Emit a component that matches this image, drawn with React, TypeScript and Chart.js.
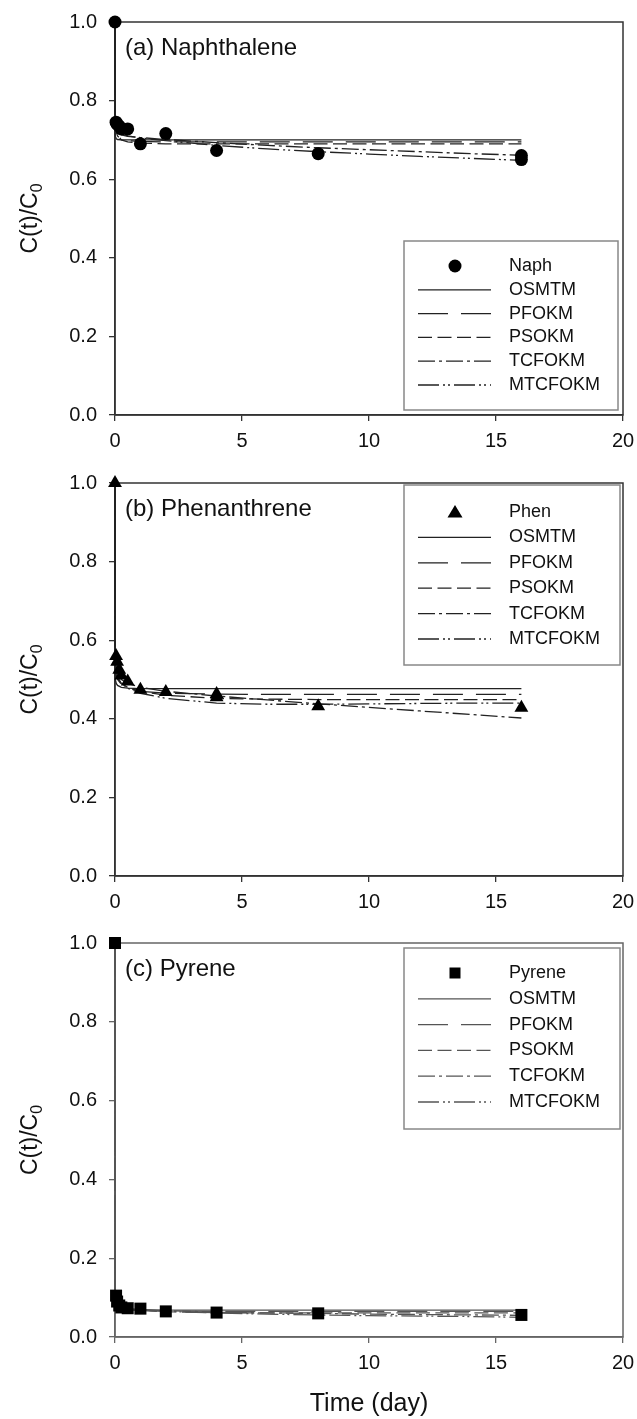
import { useEffect, useRef } from "react";
import { Chart, registerables } from "chart.js";

Chart.register(...registerables);

const FONT = "'Liberation Sans', Arial, Helvetica, sans-serif";

// ---- axis ticks ----
const xTickValues = [0, 5, 10, 15, 20];
const xTickLabels = ["0", "5", "10", "15", "20"];
const yTickValues = [0, 0.2, 0.4, 0.6, 0.8, 1.0];
const yTickLabels = ["0.0", "0.2", "0.4", "0.6", "0.8", "1.0"];

// ---- model names and model time grid ----
const modelNames = ["OSMTM", "PFOKM", "PSOKM", "TCFOKM", "MTCFOKM"];
const modelTime = [0, 0.01, 0.05, 0.1, 0.25, 0.5, 1, 2, 4, 6, 8, 10, 12, 14, 16];

// ---- (a) Naphthalene ----
const naphTime = [0, 0.042, 0.083, 0.167, 0.25, 0.5, 1, 2, 4, 8, 16, 16];
const naphValues = [1.0, 0.745, 0.74, 0.735, 0.728, 0.728, 0.69, 0.716, 0.673, 0.665, 0.66, 0.65];
const naphOSMTM = [1.0, 0.71, 0.703, 0.701, 0.7, 0.7, 0.7, 0.7, 0.7, 0.7, 0.7, 0.7, 0.7, 0.7, 0.7];
const naphPFOKM = [1.0, 0.74, 0.72, 0.71, 0.701, 0.698, 0.696, 0.695, 0.695, 0.695, 0.695, 0.695, 0.695, 0.695, 0.695];
const naphPSOKM = [1.0, 0.745, 0.725, 0.712, 0.7, 0.695, 0.692, 0.69, 0.69, 0.69, 0.69, 0.69, 0.69, 0.69, 0.69];
const naphTCFOKM = [1.0, 0.75, 0.73, 0.72, 0.713, 0.709, 0.706, 0.701, 0.693, 0.686, 0.68, 0.675, 0.67, 0.665, 0.661];
const naphMTCFOKM = [1.0, 0.75, 0.73, 0.722, 0.715, 0.71, 0.705, 0.698, 0.686, 0.677, 0.67, 0.664, 0.658, 0.653, 0.648];

// ---- (b) Phenanthrene ----
const phenTime = [0, 0.042, 0.083, 0.167, 0.25, 0.5, 1, 2, 4, 4, 8, 16];
const phenValues = [1.0, 0.56, 0.545, 0.525, 0.51, 0.495, 0.474, 0.468, 0.463, 0.455, 0.432, 0.428];
const phenOSMTM = [1.0, 0.5, 0.49, 0.485, 0.48, 0.478, 0.477, 0.477, 0.477, 0.477, 0.477, 0.477, 0.477, 0.477, 0.477];
const phenPFOKM = [1.0, 0.53, 0.51, 0.5, 0.488, 0.478, 0.47, 0.465, 0.463, 0.462, 0.462, 0.462, 0.462, 0.462, 0.462];
const phenPSOKM = [1.0, 0.54, 0.52, 0.505, 0.49, 0.48, 0.47, 0.46, 0.452, 0.45, 0.449, 0.449, 0.449, 0.449, 0.449];
const phenTCFOKM = [1.0, 0.55, 0.53, 0.515, 0.5, 0.49, 0.48, 0.47, 0.458, 0.448, 0.438, 0.429, 0.42, 0.411, 0.402];
const phenMTCFOKM = [1.0, 0.545, 0.52, 0.505, 0.49, 0.478, 0.465, 0.452, 0.44, 0.437, 0.437, 0.438, 0.439, 0.44, 0.44];

// ---- (c) Pyrene ----
const pyrTime = [0, 0.042, 0.083, 0.167, 0.25, 0.5, 1, 2, 4, 8, 16];
const pyrValues = [1.0, 0.105, 0.09, 0.08, 0.075, 0.073, 0.072, 0.065, 0.062, 0.06, 0.056];
const pyrOSMTM = [1.0, 0.085, 0.075, 0.072, 0.07, 0.069, 0.068, 0.068, 0.068, 0.068, 0.068, 0.068, 0.068, 0.068, 0.068];
const pyrPFOKM = [1.0, 0.09, 0.08, 0.075, 0.072, 0.07, 0.068, 0.066, 0.065, 0.065, 0.065, 0.065, 0.065, 0.065, 0.065];
const pyrPSOKM = [1.0, 0.095, 0.082, 0.077, 0.073, 0.07, 0.067, 0.064, 0.062, 0.061, 0.061, 0.061, 0.061, 0.061, 0.061];
const pyrTCFOKM = [1.0, 0.1, 0.085, 0.08, 0.075, 0.072, 0.07, 0.067, 0.063, 0.061, 0.06, 0.058, 0.057, 0.056, 0.055];
const pyrMTCFOKM = [1.0, 0.1, 0.085, 0.078, 0.074, 0.071, 0.068, 0.065, 0.061, 0.058, 0.056, 0.054, 0.053, 0.052, 0.05];

const dashes: number[][] = [[], [30, 13], [14, 5.5], [17, 4, 3, 4], [21, 4, 2, 3, 2, 4]];

type Panel = {
  top: number;
  height: number;
  xAxisHeight: number;
  label: string;
  obsLabel: string;
  pointStyle: "circle" | "triangle" | "rect";
  pointRadius: number;
  obsTime: number[];
  obsValues: number[];
  models: number[][];
  lineColor: string;
  frameColor: string;
  legend: { x: number; y: number; w: number; h: number; first: number; gap: number };
  xTitle: boolean;
};

const panels: Panel[] = [
  {
    top: 0, height: 455, xAxisHeight: 40,
    label: "(a) Naphthalene", obsLabel: "Naph", pointStyle: "circle", pointRadius: 6.5,
    obsTime: naphTime, obsValues: naphValues,
    models: [naphOSMTM, naphPFOKM, naphPSOKM, naphTCFOKM, naphMTCFOKM],
    lineColor: "#222", frameColor: "#333",
    legend: { x: 404, y: 241, w: 214, h: 169, first: 25, gap: 23.8 },
    xTitle: false,
  },
  {
    top: 461, height: 455, xAxisHeight: 40,
    label: "(b) Phenanthrene", obsLabel: "Phen", pointStyle: "triangle", pointRadius: 8,
    obsTime: phenTime, obsValues: phenValues,
    models: [phenOSMTM, phenPFOKM, phenPSOKM, phenTCFOKM, phenMTCFOKM],
    lineColor: "#222", frameColor: "#333",
    legend: { x: 404, y: 24, w: 216, h: 180, first: 27, gap: 25.4 },
    xTitle: false,
  },
  {
    top: 921, height: 498, xAxisHeight: 82,
    label: "(c) Pyrene", obsLabel: "Pyrene", pointStyle: "rect", pointRadius: 8.5,
    obsTime: pyrTime, obsValues: pyrValues,
    models: [pyrOSMTM, pyrPFOKM, pyrPSOKM, pyrTCFOKM, pyrMTCFOKM],
    lineColor: "#555", frameColor: "#666",
    legend: { x: 404, y: 27, w: 216, h: 181, first: 25, gap: 25.8 },
    xTitle: true,
  },
];

function drawMarker(ctx: CanvasRenderingContext2D, style: string, x: number, y: number) {
  ctx.beginPath();
  if (style === "circle") {
    ctx.arc(x, y, 6.5, 0, Math.PI * 2);
  } else if (style === "triangle") {
    ctx.moveTo(x, y - 7);
    ctx.lineTo(x + 7.5, y + 5.5);
    ctx.lineTo(x - 7.5, y + 5.5);
    ctx.closePath();
  } else {
    ctx.rect(x - 5.5, y - 5.5, 11, 11);
  }
  ctx.fill();
}

function makeDecor(p: Panel) {
  return {
    id: "decor",
    beforeDatasetsDraw(chart: any) {
      const { ctx, chartArea } = chart;
      ctx.save();
      ctx.strokeStyle = p.frameColor;
      ctx.lineWidth = 1.5;
      ctx.strokeRect(chartArea.left, chartArea.top, chartArea.right - chartArea.left, chartArea.bottom - chartArea.top);
      ctx.restore();
    },
    afterDraw(chart: any) {
      const { ctx, chartArea } = chart;
      ctx.save();
      // panel label
      ctx.fillStyle = "#111";
      ctx.font = `24px ${FONT}`;
      ctx.textAlign = "left";
      ctx.textBaseline = "middle";
      ctx.fillText(p.label, chartArea.left + 10, chartArea.top + 26);

      // y title with subscript
      const cy = (chartArea.top + chartArea.bottom) / 2;
      ctx.translate(37, cy);
      ctx.rotate(-Math.PI / 2);
      ctx.textBaseline = "alphabetic";
      ctx.font = `23px ${FONT}`;
      const main = "C(t)/C";
      const w1 = ctx.measureText(main).width;
      ctx.font = `16px ${FONT}`;
      const w2 = ctx.measureText("0").width;
      const start = -(w1 + w2) / 2;
      ctx.font = `23px ${FONT}`;
      ctx.fillText(main, start, 0);
      ctx.font = `16px ${FONT}`;
      ctx.fillText("0", start + w1, 5);
      ctx.restore();

      // legend
      const L = p.legend;
      ctx.save();
      ctx.strokeStyle = "#888";
      ctx.lineWidth = 1.5;
      ctx.fillStyle = "#fff";
      ctx.fillRect(L.x, L.y, L.w, L.h);
      ctx.strokeRect(L.x, L.y, L.w, L.h);
      const ds = chart.data.datasets;
      ds.forEach((d: any, i: number) => {
        const y = L.y + L.first + i * L.gap;
        if (i === 0) {
          ctx.fillStyle = "#000";
          drawMarker(ctx, p.pointStyle, 455, y);
        } else {
          ctx.beginPath();
          ctx.strokeStyle = d.borderColor;
          ctx.lineWidth = d.borderWidth;
          ctx.setLineDash(d.borderDash || []);
          ctx.moveTo(418, y);
          ctx.lineTo(491, y);
          ctx.stroke();
          ctx.setLineDash([]);
        }
        ctx.fillStyle = "#111";
        ctx.font = `18px ${FONT}`;
        ctx.textAlign = "left";
        ctx.textBaseline = "middle";
        ctx.fillText(d.label, 509, y);
      });
      ctx.restore();
    },
  };
}

function PanelChart({ p }: { p: Panel }) {
  const ref = useRef<HTMLCanvasElement | null>(null);
  useEffect(() => {
    if (!ref.current) return;
    const obs = {
      label: p.obsLabel,
      data: p.obsTime.map((t, i) => ({ x: t, y: p.obsValues[i] })),
      showLine: false,
      pointStyle: p.pointStyle,
      pointRadius: p.pointRadius,
      pointBackgroundColor: "#000",
      pointBorderColor: "#000",
      pointBorderWidth: 0,
      clip: false,
    };
    const models = p.models.map((vals, k) => ({
      label: modelNames[k],
      data: modelTime.map((t, i) => ({ x: t, y: vals[i] })),
      showLine: true,
      pointRadius: 0,
      borderColor: p.lineColor,
      borderWidth: 1.3,
      borderDash: dashes[k],
      tension: 0,
      clip: false,
    }));
    const tickFont = { family: FONT, size: 20 };
    const chart = new Chart(ref.current, {
      type: "scatter",
      data: { datasets: [obs, ...models] as any },
      options: {
        responsive: false,
        animation: false,
        events: [],
        layout: { padding: { top: 22, right: 14, left: 0, bottom: 0 } },
        plugins: { legend: { display: false }, tooltip: { enabled: false } },
        scales: {
          x: {
            type: "linear",
            min: 0,
            max: 20,
            afterBuildTicks: (s: any) => {
              s.ticks = xTickValues.map((v) => ({ value: v }));
            },
            afterFit: (s: any) => {
              s.height = p.xAxisHeight;
              s.paddingLeft = 0;
              s.paddingRight = 0;
            },
            ticks: {
              callback: (_v: any, i: number) => xTickLabels[i],
              font: tickFont,
              color: "#111",
              padding: 8,
              maxRotation: 0,
              autoSkip: false,
            },
            grid: { drawOnChartArea: false, drawTicks: true, tickLength: 6, color: p.frameColor, lineWidth: 1.3 },
            border: { display: true, color: p.frameColor, width: 1.5 },
            title: {
              display: p.xTitle,
              text: "Time (day)",
              font: { family: FONT, size: 25 },
              color: "#111",
              padding: { top: 0, bottom: 0 },
            },
          },
          y: {
            type: "linear",
            min: 0,
            max: 1,
            afterBuildTicks: (s: any) => {
              s.ticks = yTickValues.map((v) => ({ value: v }));
            },
            afterFit: (s: any) => {
              s.width = 115;
              s.paddingTop = 0;
              s.paddingBottom = 0;
            },
            ticks: {
              callback: (_v: any, i: number) => yTickLabels[i],
              font: tickFont,
              color: "#111",
              padding: 12,
              autoSkip: false,
            },
            grid: { drawOnChartArea: false, drawTicks: true, tickLength: 6, color: p.frameColor, lineWidth: 1.3 },
            border: { display: true, color: p.frameColor, width: 1.5 },
          },
        },
      },
      plugins: [makeDecor(p)],
    } as any);
    return () => chart.destroy();
  }, [p]);
  return (
    <canvas
      ref={ref}
      width={637}
      height={p.height}
      style={{ position: "absolute", left: 0, top: p.top, width: 637, height: p.height, display: "block" }}
    />
  );
}

export default function App() {
  return (
    <div style={{ position: "absolute", left: 0, top: 0, width: 637, height: 1419, background: "#fff", overflow: "hidden" }}>
      {panels.map((p, i) => (
        <PanelChart key={i} p={p} />
      ))}
    </div>
  );
}
